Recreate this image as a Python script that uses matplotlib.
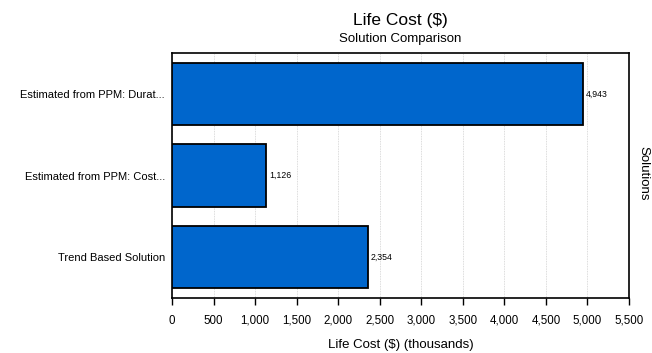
import matplotlib
matplotlib.use("Agg")
import matplotlib.pyplot as plt

categories = ["Trend Based Solution", "Estimated from PPM: Cost...", "Estimated from PPM: Durat..."]
values = [2354, 1126, 4943]
xticks = list(range(0, 5501, 500))

plt.rcParams['font.family'] = ['Liberation Sans', 'DejaVu Sans']

fig = plt.figure(figsize=(6.52, 3.53), dpi=100)
ax = fig.add_axes([172/652, 1-298/353, (629-172)/652, (298-53)/353])

ypos = list(range(len(categories)))
ax.barh(ypos, values, height=0.76, color="#0066cc", edgecolor="black", linewidth=1.3, zorder=3)
for y, v in zip(ypos, values):
    ax.text(v + 40, y, f"{v:,}", va="center", ha="left", fontsize=6.3, zorder=4)

ax.set_xlim(0, 5500)
ax.set_ylim(-0.5, 2.5)
ax.set_xticks(xticks)
ax.set_xticklabels([f"{t:,}" for t in xticks], fontsize=8.3)
ax.set_yticks(ypos)
ax.set_yticklabels(categories, fontsize=8)
ax.tick_params(axis='y', length=0, pad=5)
ax.tick_params(axis='x', direction='out', length=5, width=1, pad=7)
ax.grid(axis='x', color="#d0d0d0", linestyle=(0, (1, 1)), linewidth=0.6, zorder=0)
for s in ax.spines.values():
    s.set_linewidth(1.2)
ax.set_xlabel("Life Cost ($) (thousands)", fontsize=9.5, labelpad=9)

fig.text((172+629)/2/652, 1-20/353, "Life Cost ($)", ha="center", va="center", fontsize=12.5)
fig.text((172+629)/2/652, 1-39/353, "Solution Comparison", ha="center", va="center", fontsize=9.5)
fig.text(643/652, 1-173/353, "Solutions", rotation=-90, ha="center", va="center", fontsize=9.5)

fig.savefig("out.png", dpi=100)
